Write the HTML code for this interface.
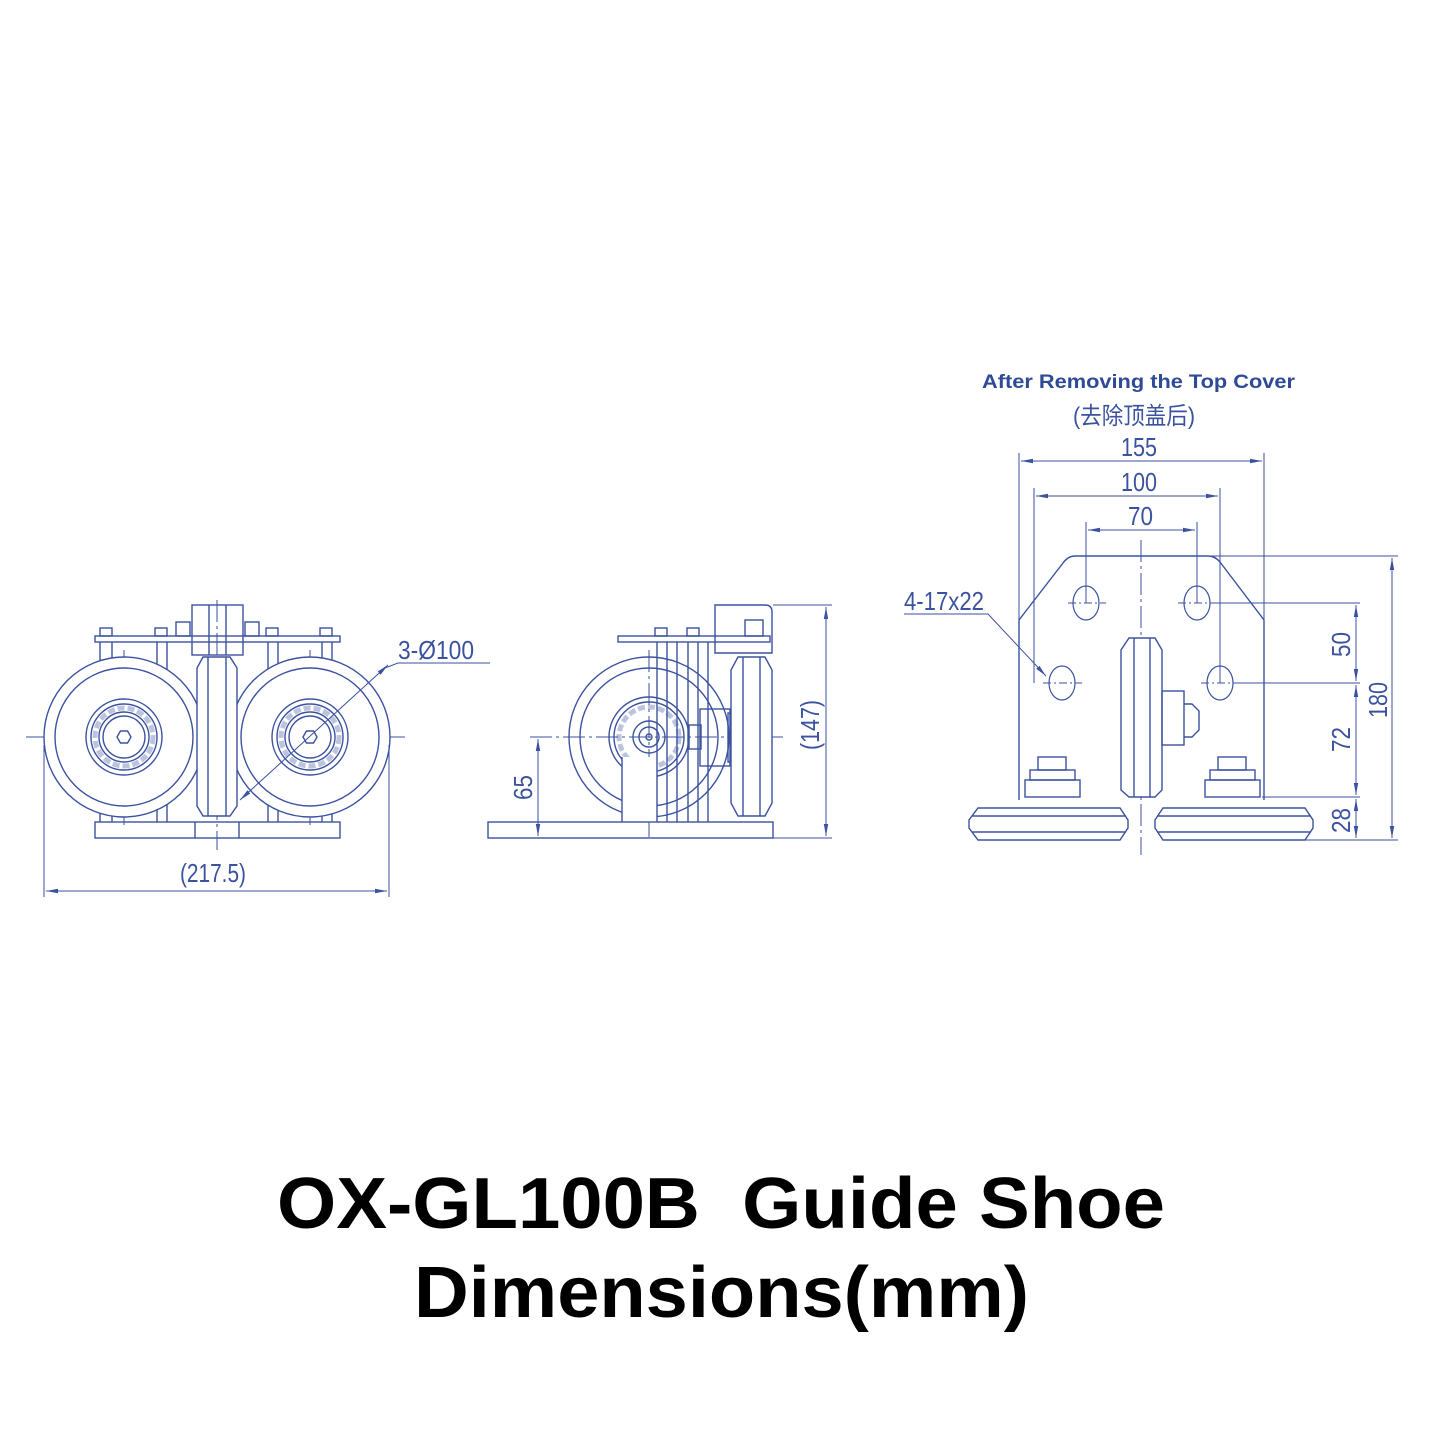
<!DOCTYPE html>
<html><head><meta charset="utf-8"><style>
html,body{margin:0;padding:0;background:#fff}
svg{display:block}
</style></head><body>
<svg width="1445" height="1445" viewBox="0 0 1445 1445" xmlns="http://www.w3.org/2000/svg">
<defs>
<marker id="a" markerWidth="12" markerHeight="6" refX="12" refY="3" orient="auto-start-reverse" markerUnits="userSpaceOnUse"><path d="M0,0.8 L12,3 L0,5.2z" fill="#3b52a0"/></marker>
</defs>
<g fill="none" stroke="#3b52a0" stroke-width="1.4">
<!-- LEFT VIEW -->
<g stroke-dasharray="22,4,3,4" stroke-width="1">
<line x1="26" y1="737" x2="405" y2="737"/>
<line x1="124" y1="650" x2="124" y2="825"/>
<line x1="310" y1="650" x2="310" y2="825"/>
<line x1="217" y1="600" x2="217" y2="850"/>
</g>
<rect x="95" y="636" width="245" height="6"/>
<rect x="192" y="605" width="51" height="50"/>
<line x1="209" y1="605" x2="209" y2="655"/><line x1="226" y1="605" x2="226" y2="655"/>
<rect x="176" y="622" width="14" height="14"/><rect x="245" y="622" width="14" height="14"/>
<rect x="100" y="628" width="12" height="8"/><rect x="155" y="628" width="12" height="8"/>
<rect x="266" y="628" width="12" height="8"/><rect x="320" y="628" width="12" height="8"/>
<line x1="100" y1="642" x2="100" y2="822"/><line x1="112" y1="642" x2="112" y2="822"/>
<line x1="157" y1="642" x2="157" y2="822"/><line x1="167" y1="642" x2="167" y2="822"/>
<line x1="268" y1="642" x2="268" y2="822"/><line x1="278" y1="642" x2="278" y2="822"/>
<line x1="322" y1="642" x2="322" y2="822"/><line x1="332" y1="642" x2="332" y2="822"/>
<circle cx="124" cy="737" r="80" fill="#fff"/><circle cx="124" cy="737" r="69"/>
<circle cx="124" cy="737" r="38"/><circle cx="124" cy="737" r="33"/><circle cx="124" cy="737" r="25"/><circle cx="124" cy="737" r="21"/>
<circle cx="124" cy="737" r="29" stroke-dasharray="7,3" stroke-width="5" stroke-opacity="0.35"/>
<polygon points="117,737 120.5,731 127.5,731 131,737 127.5,743 120.5,743"/>
<circle cx="310" cy="737" r="80" fill="#fff"/><circle cx="310" cy="737" r="69"/>
<circle cx="310" cy="737" r="38"/><circle cx="310" cy="737" r="33"/><circle cx="310" cy="737" r="25"/><circle cx="310" cy="737" r="21"/>
<circle cx="310" cy="737" r="29" stroke-dasharray="7,3" stroke-width="5" stroke-opacity="0.35"/>
<polygon points="303,737 306.5,731 313.5,731 317,737 313.5,743 306.5,743"/>
<path d="M203,657 L230,657 L237,668 L237,806 L230,816 L203,816 L197,806 L197,668z" fill="#fff"/>
<line x1="208" y1="657" x2="208" y2="816"/><line x1="226" y1="657" x2="226" y2="816"/>
<rect x="95" y="822" width="245" height="16"/>
<line x1="195" y1="822" x2="195" y2="838"/><line x1="239" y1="822" x2="239" y2="838"/>
<line x1="44" y1="745" x2="44" y2="897" stroke-width="1"/><line x1="389" y1="745" x2="389" y2="897" stroke-width="1"/>
<line x1="46" y1="891" x2="387" y2="891" stroke-width="1" marker-start="url(#a)" marker-end="url(#a)"/>
<line x1="240" y1="800" x2="388" y2="665" stroke-width="1" marker-start="url(#a)" marker-end="url(#a)"/>
<polyline points="385,668 398,663 490,663" stroke-width="1"/>
<!-- MIDDLE VIEW -->
<g stroke-dasharray="22,4,3,4" stroke-width="1">
<line x1="530" y1="737" x2="785" y2="737"/>
<line x1="649" y1="650" x2="649" y2="840"/>
</g>
<circle cx="649" cy="737" r="80"/><circle cx="649" cy="737" r="69"/>
<circle cx="649" cy="737" r="40"/><circle cx="649" cy="737" r="35"/><circle cx="649" cy="737" r="16"/><circle cx="649" cy="737" r="10"/><circle cx="649" cy="737" r="3"/>
<circle cx="649" cy="737" r="30" stroke-dasharray="7,3" stroke-width="5" stroke-opacity="0.35"/>
<rect x="622" y="757" width="35" height="65" fill="#fff" stroke="none"/>
<line x1="622" y1="757" x2="622" y2="822"/>
<rect x="618" y="636" width="152" height="6"/>
<rect x="655" y="628" width="12" height="8"/><rect x="687" y="628" width="12" height="8"/>
<line x1="657" y1="642" x2="657" y2="822"/><line x1="667" y1="642" x2="667" y2="822"/>
<line x1="677" y1="642" x2="677" y2="822"/><line x1="688" y1="642" x2="688" y2="822"/>
<line x1="698" y1="642" x2="698" y2="822"/><line x1="708" y1="642" x2="708" y2="822"/>
<path d="M715,605 L765,605 Q772,605 772,612 L772,653 L715,653z"/>
<rect x="745" y="620" width="18" height="16"/>
<rect x="700" y="709" width="30" height="57"/><rect x="728" y="713" width="6" height="49"/>
<rect x="689" y="725" width="12" height="24"/>
<path d="M738,657 L765,657 L772,670 L772,803 L765,816 L738,816 L731,803 L731,670z" fill="#fff"/>
<line x1="743" y1="657" x2="743" y2="816"/><line x1="760" y1="657" x2="760" y2="816"/>
<rect x="488" y="822" width="285" height="16"/>
<line x1="773" y1="605" x2="832" y2="605" stroke-width="1"/><line x1="773" y1="838" x2="832" y2="838" stroke-width="1"/>
<line x1="826" y1="607" x2="826" y2="836" stroke-width="1" marker-start="url(#a)" marker-end="url(#a)"/>
<line x1="538" y1="739" x2="538" y2="836" stroke-width="1" marker-start="url(#a)" marker-end="url(#a)"/>
<line x1="530" y1="838" x2="560" y2="838" stroke-width="1"/>
<!-- RIGHT VIEW -->
<g stroke-width="1">
<line x1="1019" y1="453" x2="1019" y2="800"/><line x1="1264" y1="453" x2="1264" y2="800"/>
<line x1="1034" y1="488" x2="1034" y2="683"/><line x1="1220" y1="488" x2="1220" y2="683"/>
<line x1="1086" y1="522" x2="1086" y2="603"/><line x1="1197" y1="522" x2="1197" y2="603"/>
<line x1="1021" y1="461" x2="1262" y2="461" marker-start="url(#a)" marker-end="url(#a)"/>
<line x1="1036" y1="496" x2="1218" y2="496" marker-start="url(#a)" marker-end="url(#a)"/>
<line x1="1088" y1="530" x2="1195" y2="530" marker-start="url(#a)" marker-end="url(#a)"/>
<line x1="1141" y1="540" x2="1141" y2="855" stroke-dasharray="22,4,3,4"/>
<line x1="1210" y1="556" x2="1398" y2="556"/>
<line x1="1210" y1="603" x2="1360" y2="603"/>
<line x1="1233" y1="683" x2="1360" y2="683"/>
<line x1="1262" y1="797" x2="1360" y2="797"/>
<line x1="1265" y1="840" x2="1398" y2="840"/>
<line x1="1392" y1="558" x2="1392" y2="838" marker-start="url(#a)" marker-end="url(#a)"/>
<line x1="1356" y1="605" x2="1356" y2="681" marker-start="url(#a)" marker-end="url(#a)"/>
<line x1="1356" y1="685" x2="1356" y2="795" marker-start="url(#a)" marker-end="url(#a)"/>
<line x1="1356" y1="799" x2="1356" y2="838" marker-start="url(#a)" marker-end="url(#a)"/>
<polyline points="904,614 988,614 1046,676" marker-end="url(#a)"/>
</g>
<path d="M1019,800 L1019,620 L1063,563 Q1068,556 1075,556 L1208,556 Q1215,556 1220,562 L1264,620 L1264,800"/>
<g stroke-width="1.2">
<ellipse cx="1086" cy="603" rx="13" ry="17"/><ellipse cx="1197" cy="603" rx="13" ry="17"/>
<ellipse cx="1062" cy="683" rx="13" ry="17"/><ellipse cx="1220" cy="683" rx="13" ry="17"/>
</g>
<g stroke-width="1" stroke-dasharray="8,3,2,3">
<line x1="1068" y1="603" x2="1106" y2="603"/><line x1="1178" y1="603" x2="1215" y2="603"/>
<line x1="1043" y1="683" x2="1082" y2="683"/><line x1="1201" y1="683" x2="1233" y2="683"/>
</g>
<path d="M1129,638 L1155,638 L1162,650 L1162,790 L1155,797 L1129,797 L1121,790 L1121,650z" fill="#fff"/>
<line x1="1134" y1="638" x2="1134" y2="797"/><line x1="1150" y1="638" x2="1150" y2="797"/>
<rect x="1162" y="691" width="22" height="54"/>
<path d="M1184,704 L1192,704 L1199,711 L1199,730 L1192,737 L1184,737"/>
<rect x="1025" y="780" width="55" height="17"/><rect x="1030" y="770" width="45" height="10"/><rect x="1038" y="757" width="28" height="13"/>
<rect x="1205" y="780" width="55" height="17"/><rect x="1210" y="770" width="45" height="10"/><rect x="1218" y="757" width="28" height="13"/>
<path d="M978,808 L1120,808 L1128,820 L1128,828 L1120,840 L978,840 L969,828 L969,820z"/>
<line x1="972" y1="816" x2="1126" y2="816"/><line x1="972" y1="832" x2="1126" y2="832"/>
<path d="M1163,808 L1305,808 L1313,820 L1313,828 L1305,840 L1163,840 L1155,828 L1155,820z"/>
<line x1="1157" y1="816" x2="1311" y2="816"/><line x1="1157" y1="832" x2="1311" y2="832"/>
</g>
<g fill="#3b52a0" font-family="'Liberation Sans Narrow','Liberation Sans',sans-serif" font-size="26">
<text x="398" y="659" textLength="76" lengthAdjust="spacingAndGlyphs">3-Ø100</text>
<text x="180" y="882" textLength="66" lengthAdjust="spacingAndGlyphs">(217.5)</text>
<text x="904" y="610" textLength="80" lengthAdjust="spacingAndGlyphs">4-17x22</text>
<text x="1121" y="456" textLength="36" lengthAdjust="spacingAndGlyphs">155</text>
<text x="1121" y="491" textLength="36" lengthAdjust="spacingAndGlyphs">100</text>
<text x="1128" y="525" textLength="25" lengthAdjust="spacingAndGlyphs">70</text>
<text transform="translate(532,800) rotate(-90)" textLength="25" lengthAdjust="spacingAndGlyphs">65</text>
<text transform="translate(819,750) rotate(-90)" textLength="50" lengthAdjust="spacingAndGlyphs">(147)</text>
<text transform="translate(1350,657) rotate(-90)" textLength="25" lengthAdjust="spacingAndGlyphs">50</text>
<text transform="translate(1350,752) rotate(-90)" textLength="25" lengthAdjust="spacingAndGlyphs">72</text>
<text transform="translate(1350,833) rotate(-90)" textLength="25" lengthAdjust="spacingAndGlyphs">28</text>
<text transform="translate(1387,718) rotate(-90)" textLength="36" lengthAdjust="spacingAndGlyphs">180</text>
</g>
<text x="982" y="388" fill="#2f4a96" font-family="'Liberation Sans',sans-serif" font-weight="bold" font-size="19" textLength="313" lengthAdjust="spacingAndGlyphs">After Removing the Top Cover</text>
<text x="1073" y="424" fill="#3b52a0" font-family="'Liberation Sans','Noto Sans CJK SC',sans-serif" font-size="24" textLength="122" lengthAdjust="spacingAndGlyphs">(去除顶盖后)</text>
<g fill="#000" font-family="'Liberation Sans',sans-serif" font-weight="bold" font-size="72">
<text x="277" y="1228" textLength="888" lengthAdjust="spacingAndGlyphs">OX-GL100B&#160; Guide Shoe</text>
<text x="414" y="1317" textLength="615" lengthAdjust="spacingAndGlyphs">Dimensions(mm)</text>
</g>
</svg>
</body></html>
